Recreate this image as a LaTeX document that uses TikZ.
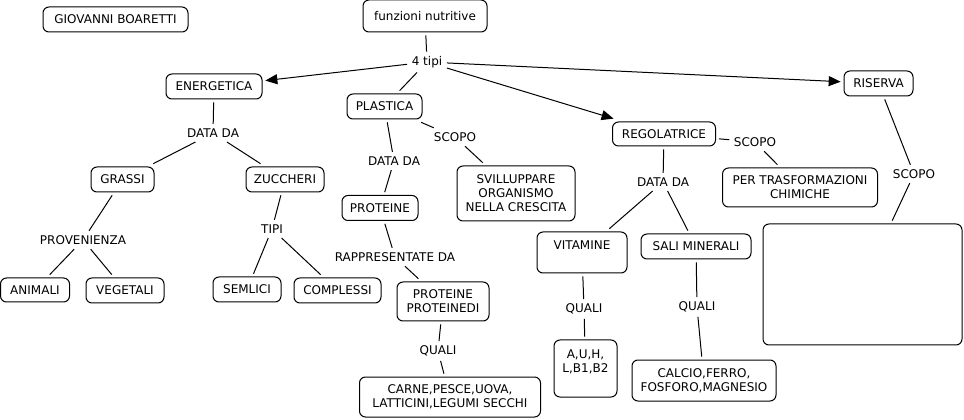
\documentclass[tikz,border=0pt]{standalone}
\usepackage{fontspec}
\setmainfont{DejaVu Sans}
\usetikzlibrary{arrows.meta}
\begin{document}
\begin{tikzpicture}[x=0.75pt,y=-0.75pt,
  font=\fontsize{9pt}{10.5pt}\selectfont,
  box/.style={draw,rounded corners=4.5pt,line width=0.75pt,align=center,inner sep=1pt,outer sep=2.5pt},
  sz/.style n args={2}{minimum width=#1*0.75pt,minimum height=#2*0.75pt},
  lab/.style={inner sep=1pt,outer sep=2.5pt,fill=white},
  con/.style={line width=0.75pt},
  arr/.style={line width=0.75pt,-{Triangle[length=9pt,width=7.5pt]}}]
\useasboundingbox (0,0) rectangle (964,420);
% boxes
\node[box,sz={145}{25}] (gio) at (115.5,19.5) {GIOVANNI BOARETTI};
\node[box,sz={124}{32}] (fun) at (425,16) {funzioni nutritive};
\node[box,sz={96}{25}] (ene) at (214,86.5) {ENERGETICA};
\node[box,sz={75}{25}] (pla) at (384.5,106.5) {PLASTICA};
\node[box,sz={118}{55}] (svi) at (516,193.5) {SVILLUPPARE\\ORGANISMO\\NELLA CRESCITA};
\node[box,sz={103}{24}] (reg) at (664,134) {REGOLATRICE};
\node[box,sz={155}{39}] (per) at (800,187.5) {PER TRASFORMAZIONI\\CHIMICHE};
\node[box,sz={69}{25}] (ris) at (878.5,83.5) {RISERVA};
\node[box,sz={199}{121}] (big) at (862.5,284.5) {};
\node[box,sz={63}{25}] (gra) at (122.5,179.5) {GRASSI};
\node[box,sz={78}{25}] (zuc) at (285,179.5) {ZUCCHERI};
\node[box,sz={76}{25}] (pro) at (380,208) {PROTEINE};
\node[box,sz={69}{24}] (ani) at (35,290) {ANIMALI};
\node[box,sz={78}{25}] (veg) at (125,290.5) {VEGETALI};
\node[box,sz={68}{25}] (sem) at (247,289.5) {SEMLICI};
\node[box,sz={87}{25}] (com) at (337.5,290.5) {COMPLESSI};
\node[box,sz={92}{39}] (ppr) at (443,301.5) {PROTEINE\\PROTEINEDI};
\node[box,sz={181}{40}] (car) at (450,397) {CARNE,PESCE,UOVA,\\LATTICINI,LEGUMI SECCHI};
\node[box,sz={90}{41}] (vit) at (582,252.5) {VITAMINE\\\mbox{}};
\node[box,sz={110}{25}] (sal) at (696,246.5) {SALI MINERALI};
\node[box,sz={63}{57}] (auh) at (585.5,368.5) {A,U,H,\\L,B1,B2\\\mbox{}};
\node[box,sz={144}{41}] (cal) at (704,380.5) {CALCIO,FERRO,\\FOSFORO,MAGNESIO};
% labels
\node[lab] (tipi4) at (427,62) {4 tipi};
\node[lab] (dd1) at (213,133) {DATA DA};
\node[lab] (dd2) at (394,161) {DATA DA};
\node[lab] (sc1) at (455,137) {SCOPO};
\node[lab] (prov) at (83,240) {PROVENIENZA};
\node[lab] (tipi) at (272,229) {TIPI};
\node[lab] (rap) at (395,257) {RAPPRESENTATE DA};
\node[lab] (qu1) at (438,351) {QUALI};
\node[lab] (dd3) at (663,182) {DATA DA};
\node[lab] (sc2) at (755,142) {SCOPO};
\node[lab] (sc3) at (914,174) {SCOPO};
\node[lab] (qu2) at (584,309) {QUALI};
\node[lab] (qu3) at (697,307) {QUALI};
% connectors
\draw[con] (fun) -- (tipi4);
\draw[arr] (tipi4) -- (ene);
\draw[con] (tipi4) -- (pla);
\draw[arr] (tipi4) -- (reg);
\draw[arr] (tipi4) -- (ris);
\draw[con] (ene) -- (dd1);
\draw[con] (dd1) -- (gra);
\draw[con] (dd1) -- (zuc);
\draw[con] (gra) -- (prov);
\draw[con] (prov) -- (ani);
\draw[con] (prov) -- (veg);
\draw[con] (zuc) -- (tipi);
\draw[con] (tipi) -- (sem);
\draw[con] (tipi) -- (com);
\draw[con] (pla) -- (dd2);
\draw[con] (dd2) -- (pro);
\draw[con] (pla) -- (sc1);
\draw[con] (sc1) -- (svi);
\draw[con] (pro) -- (rap);
\draw[con] (rap) -- (ppr);
\draw[con] (ppr) -- (qu1);
\draw[con] (qu1) -- (car);
\draw[con] (reg) -- (sc2);
\draw[con] (sc2) -- (per);
\draw[con] (reg) -- (dd3);
\draw[con] (dd3) -- (vit);
\draw[con] (dd3) -- (sal);
\draw[con] (vit) -- (qu2);
\draw[con] (qu2) -- (auh);
\draw[con] (sal) -- (qu3);
\draw[con] (qu3) -- (cal);
\draw[con] (ris) -- (sc3);
\draw[con] (sc3) -- (big);
\end{tikzpicture}
\end{document}
